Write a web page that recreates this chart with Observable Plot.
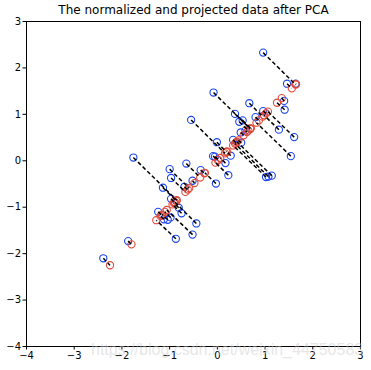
<!DOCTYPE html>
<html><head><meta charset="utf-8">
<script src="https://cdn.jsdelivr.net/npm/d3@7"></script>
<script src="https://cdn.jsdelivr.net/npm/@observablehq/plot@0.6"></script>
<style>
html,body{margin:0;padding:0;background:#fff;}
#wrap{position:relative;width:371px;height:370px;overflow:hidden;}
#wm{position:absolute;left:91px;top:342px;font-family:"Liberation Sans",Arial,sans-serif;font-size:16px;line-height:16px;color:rgba(205,205,205,0.5);white-space:nowrap;pointer-events:none;}
</style></head><body><div id="wrap"></div>
<script>
const title = "The normalized and projected data after PCA";
const watermark = "https://blog.csdn.net/weixin_44750583";
// normalized data (blue)
const xNorm = [-0.52,0.46,-1.14,-1.04,-0.97,-0.08,-0.44,1.64,-0.05,0.49,0.50,0.33,0.17,1.07,-0.98,1.40,0.59,-0.97,0.96,1.02,1.46,-0.35,1.41,0.23,-1.24,-0.65,0.80,1.54,-1.00,-0.09,-0.55,1.61,-0.75,1.14,-0.52,0.67,-1.12,1.29,-1.87,0.28,0.37,-0.69,-0.81,0.53,-0.87,-0.01,-2.39,-1.76,-0.03,0.96];
const yNorm = [-1.59,0.84,-0.58,-1.27,-0.82,1.47,-1.35,1.66,0.09,0.61,0.39,0.45,-0.05,-0.34,-1.22,1.29,0.65,-0.37,2.33,-0.35,1.66,-0.20,1.10,-0.31,-1.10,-0.06,0.94,0.10,-0.18,0.10,0.88,0.51,-1.13,-0.32,-0.43,1.24,-1.26,0.67,-1.73,0.11,1.01,-0.56,-1.01,0.87,-1.68,0.40,-2.10,0.07,-0.49,1.07];
// projected (recovered) data on the principal axis (red), x = y = value
const proj = [-1.06,0.65,-0.86,-1.16,-0.90,0.69,-0.89,1.65,0.02,0.55,0.44,0.39,0.06,0.37,-1.10,1.35,0.62,-0.67,1.64,0.33,1.56,-0.27,1.25,-0.04,-1.17,-0.36,0.87,0.82,-0.59,0.01,0.16,1.06,-0.94,0.41,-0.48,0.95,-1.19,0.98,-1.80,0.20,0.69,-0.62,-0.91,0.70,-1.28,0.19,-2.25,-0.85,-0.26,1.02];
const ticks = [-4,-3,-2,-1,0,1,2,3];

const pts = xNorm.map((x,i)=>({x, y:yNorm[i], t:proj[i]}));
const fmt = d => d < 0 ? "\u2212" + (-d) : String(d);

const chart = Plot.plot({
  width: 371, height: 370,
  marginLeft: 26, marginRight: 11, marginTop: 21, marginBottom: 24,
  style: {fontFamily: "DejaVu Sans", fontSize: "10px", background: "#fff", color: "#000"},
  x: {domain: [-4,3], ticks, tickFormat: fmt, tickSize: 3.5, tickPadding: 2, label: null},
  y: {domain: [-4,3], ticks, tickFormat: fmt, tickSize: 3.5, tickPadding: 2, label: null},
  marks: [
    Plot.frame({stroke: "#000", strokeWidth: 1}),
    Plot.dot(pts, {x: "x", y: "y", r: 3.6, stroke: "#1a44f0", fill: "none", strokeWidth: 1.1}),
    Plot.dot(pts, {x: "t", y: "t", r: 3.6, stroke: "#e04a3a", fill: "none", strokeWidth: 1.1}),
    Plot.link(pts, {x1: "x", y1: "y", x2: "t", y2: "t", stroke: "#000", strokeWidth: 1.5, strokeDasharray: "4,2.5"}),
    Plot.text([title], {frameAnchor: "top", dy: -11, lineAnchor: "middle", fontSize: 12, fill: "#000"})
  ]
});
const wrap = document.getElementById("wrap");
wrap.appendChild(chart);
const wm = document.createElement("div");
wm.id = "wm"; wm.textContent = watermark;
wrap.appendChild(wm);
</script>
</body></html>
